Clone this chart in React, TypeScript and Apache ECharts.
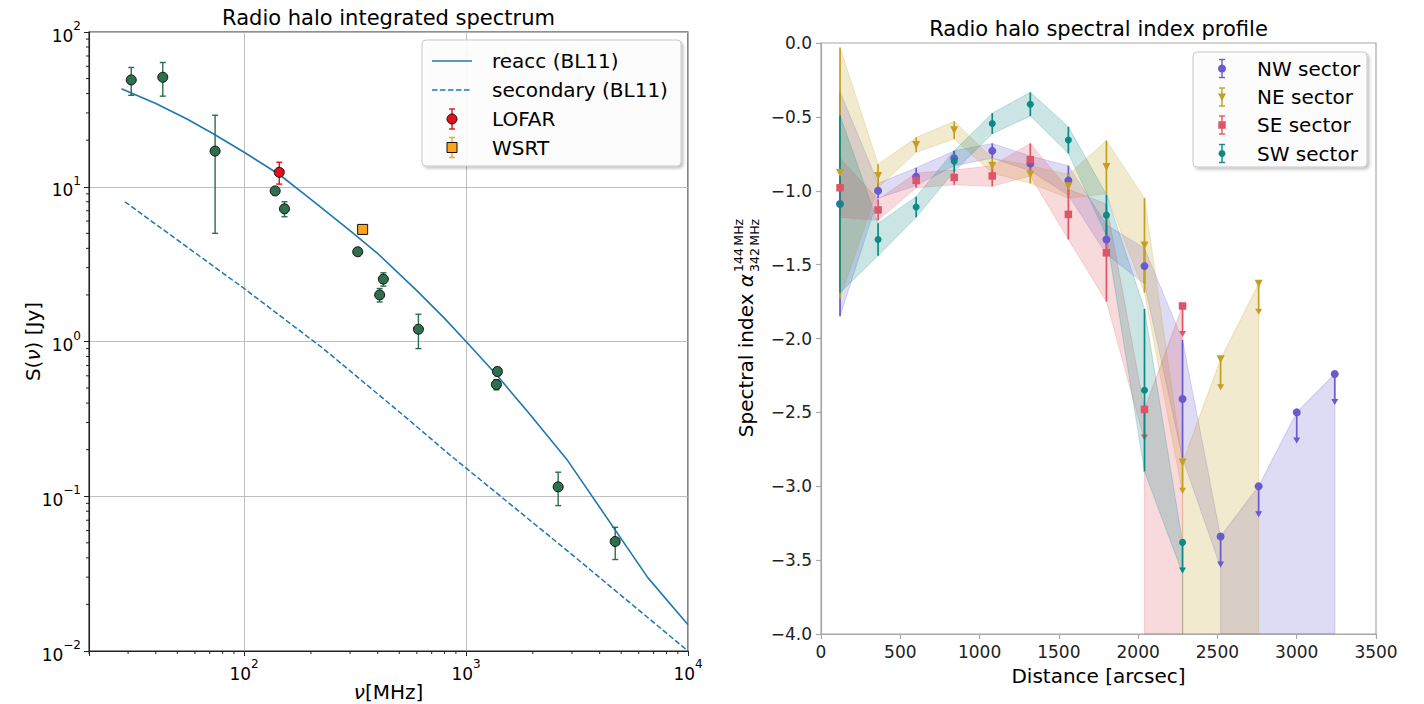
import React, { useEffect, useRef } from 'react';
import * as echarts from 'echarts';

const FONT = "'DejaVu Sans', sans-serif";

// ===== Left panel: Radio halo integrated spectrum =====
const reaccFreq = [28, 40, 55, 72.6, 100, 144, 200, 300, 404, 600, 800, 1000, 1384, 1900, 2870, 6590, 10000];
const reaccFlux = [43, 34.5, 27.5, 22, 16.7, 12.0, 8.3, 5.2, 3.65, 2.13, 1.41, 1.0, 0.6, 0.35, 0.17, 0.0298, 0.0148];
const secFreq = [29, 100, 226, 553, 834, 3000, 10000];
const secFlux = [8.0, 2.2, 0.906, 0.311, 0.188, 0.042, 0.01];
const obsFreq = [31, 43, 74, 138, 152, 325, 408, 424, 610, 1370, 1384, 2600, 4700];
const obsFlux = [49, 51, 17, 9.4, 7.2, 3.8, 2.0, 2.53, 1.2, 0.527, 0.64, 0.115, 0.051];
const obsErr = [10, 12.5, 12, 0.5, 0.8, 0.2, 0.2, 0.25, 0.3, 0.04, 0.04, 0.028, 0.012];
const lofarFreq = [144];
const lofarFlux = [12.4];
const lofarErr = [2.0];
const wsrtFreq = [342];
const wsrtFlux = [5.3];
const wsrtErr = [0.3];

// minor tick mantissas and decades (log axes)
const minorSteps = [2, 3, 4, 5, 6, 7, 8, 9];
const xMinorDecades = [10, 100, 1000];
const yMinorDecades = [0.01, 0.1, 1, 10];

// ===== Right panel: Radio halo spectral index profile =====
const distances = [120, 360, 600, 840, 1080, 1320, 1560, 1800, 2040, 2280, 2520, 2760, 3000, 3240];

const nwAlpha = [-1.09, -1.0, -0.905, -0.78, -0.73, -0.815, -0.93, -1.33, -1.51, -2.41, -3.34, -3.0, -2.5, -2.24];
const nwErr = [0.76, 0.05, 0.06, 0.05, 0.05, 0.05, 0.1, 0.1, 0.12, 0.4, 0, 0, 0, 0];
const nwUL = [0, 0, 0, 0, 0, 0, 0, 0, 0, 0, 1, 1, 1, 1];

const neAlpha = [-0.88, -0.9, -0.69, -0.59, -0.83, -0.89, -0.97, -0.84, -1.37, -2.84, -2.14, -1.63];
const neErr = [0.85, 0.08, 0.05, 0.06, 0.05, 0.06, 0.08, 0.18, 0.32, 0, 0, 0];
const neUL = [0, 0, 0, 0, 0, 0, 0, 0, 0, 1, 1, 1];

const seAlpha = [-0.98, -1.13, -0.93, -0.91, -0.9, -0.79, -1.16, -1.42, -2.48, -1.78];
const seErr = [0.2, 0.07, 0.05, 0.05, 0.07, 0.11, 0.17, 0.33, 0, 0];
const seUL = [0, 0, 0, 0, 0, 0, 0, 0, 1, 1];

const swAlpha = [-1.09, -1.33, -1.11, -0.8, -0.545, -0.414, -0.657, -1.165, -2.35, -3.38];
const swErr = [0.6, 0.11, 0.07, 0.07, 0.07, 0.08, 0.09, 0.14, 0.55, 0];
const swUL = [0, 0, 0, 0, 0, 0, 0, 0, 0, 1];

const ALPHA_MIN = -4;
const UL_ARROW = 0.21;

const LEFT_GRID = { left: 89, top: 32, width: 599, height: 619 };
const RIGHT_GRID = { left: 821, top: 43, width: 555, height: 591 };

const sectors = [
  { name: 'NW sector', color: '#6a5acd', fillA: 'rgba(106,90,205,0.22)', symbol: 'circle', size: 8, rot: 0, vals: nwAlpha, errs: nwErr, ul: nwUL },
  { name: 'NE sector', color: '#c59f22', fillA: 'rgba(197,159,34,0.22)', symbol: 'triangle', size: 8, rot: 180, vals: neAlpha, errs: neErr, ul: neUL },
  { name: 'SE sector', color: '#dd5566', fillA: 'rgba(221,85,102,0.22)', symbol: 'rect', size: 7.5, rot: 0, vals: seAlpha, errs: seErr, ul: seUL },
  { name: 'SW sector', color: '#0e8a84', fillA: 'rgba(14,138,132,0.22)', symbol: 'circle', size: 7, rot: 0, vals: swAlpha, errs: swErr, ul: swUL },
];

const zip = (a: number[], b: number[]) => a.map((v, i) => [v, b[i]]);
const zip3 = (a: number[], b: number[], c: number[]) => a.map((v, i) => [v, b[i], c[i]]);

const supLabel = (v: number) => {
  const e = Math.log10(v);
  const r = Math.round(e);
  if (Math.abs(e - r) > 1e-6) return '';
  return `{b|10}{s|${r < 0 ? '\u2212' + Math.abs(r) : r}}`;
};
const supRich = {
  b: { fontSize: 17, fontFamily: FONT, color: '#000', lineHeight: 24, verticalAlign: 'bottom' },
  s: { fontSize: 12, fontFamily: FONT, color: '#000', lineHeight: 12, verticalAlign: 'top' },
};

const errRender = (color: string, cap: number, lw: number) => (params: any, api: any) => {
  const x = api.value(0);
  const y = api.value(1);
  const e = api.value(2);
  const t = api.coord([x, y + e]);
  const b = api.coord([x, y - e]);
  const st = { stroke: color, lineWidth: lw };
  const ch: any[] = [{ type: 'line', shape: { x1: t[0], y1: t[1], x2: b[0], y2: b[1] }, style: st }];
  if (cap > 0) {
    ch.push({ type: 'line', shape: { x1: t[0] - cap, y1: t[1], x2: t[0] + cap, y2: t[1] }, style: st });
    ch.push({ type: 'line', shape: { x1: b[0] - cap, y1: b[1], x2: b[0] + cap, y2: b[1] }, style: st });
  }
  return { type: 'group', children: ch };
};

const sectorErrRender = (color: string) => (params: any, api: any) => {
  const x = api.value(0);
  const v = api.value(1);
  const e = api.value(2);
  const ul = api.value(3);
  const st = { stroke: color, lineWidth: 1.7 };
  if (ul) {
    const c = api.coord([x, v]);
    const end = api.coord([x, v - UL_ARROW]);
    return {
      type: 'group',
      children: [
        { type: 'line', shape: { x1: c[0], y1: c[1], x2: end[0], y2: end[1] - 4 }, style: st },
        { type: 'polygon', shape: { points: [[end[0] - 3.5, end[1] - 6], [end[0] + 3.5, end[1] - 6], [end[0], end[1]]] }, style: { fill: color } },
      ],
    };
  }
  const t = api.coord([x, v + e]);
  const b = api.coord([x, v - e]);
  return { type: 'line', shape: { x1: t[0], y1: t[1], x2: b[0], y2: b[1] }, style: st };
};

function buildOption() {
  const series: any[] = [];

  // ---- left panel
  series.push({
    type: 'line', name: 'reacc (BL11)', xAxisIndex: 0, yAxisIndex: 0, data: zip(reaccFreq, reaccFlux),
    symbol: 'none', lineStyle: { color: '#1f77b4', width: 1.6 }, z: 2,
  });
  series.push({
    type: 'line', name: 'secondary (BL11)', xAxisIndex: 0, yAxisIndex: 0, data: zip(secFreq, secFlux),
    symbol: 'none', lineStyle: { color: '#1f77b4', width: 1.5, type: [5.5, 2.5] }, z: 2,
  });
  series.push({
    type: 'custom', xAxisIndex: 0, yAxisIndex: 0, data: zip3(obsFreq, obsFlux, obsErr),
    encode: { x: 0, y: 1 }, renderItem: errRender('#2b6e4c', 3, 1.4), z: 3, silent: true,
  });
  series.push({
    type: 'scatter', xAxisIndex: 0, yAxisIndex: 0, data: zip(obsFreq, obsFlux),
    symbol: 'circle', symbolSize: 10, itemStyle: { color: '#2e6f4e', borderColor: '#111', borderWidth: 1, opacity: 1 }, z: 4,
  });
  series.push({
    type: 'custom', xAxisIndex: 0, yAxisIndex: 0, data: zip3(lofarFreq, lofarFlux, lofarErr),
    encode: { x: 0, y: 1 }, renderItem: errRender('#e3101b', 3, 1.4), z: 3, silent: true,
  });
  series.push({
    type: 'scatter', name: 'LOFAR', xAxisIndex: 0, yAxisIndex: 0, data: zip(lofarFreq, lofarFlux),
    symbol: 'circle', symbolSize: 10, itemStyle: { color: '#e3101b', borderColor: '#111', borderWidth: 1, opacity: 1 }, z: 4,
  });
  series.push({
    type: 'custom', xAxisIndex: 0, yAxisIndex: 0, data: zip3(wsrtFreq, wsrtFlux, wsrtErr),
    encode: { x: 0, y: 1 }, renderItem: errRender('#ffa31a', 3, 1.4), z: 3, silent: true,
  });
  series.push({
    type: 'scatter', name: 'WSRT', xAxisIndex: 0, yAxisIndex: 0, data: zip(wsrtFreq, wsrtFlux),
    symbol: 'rect', symbolSize: 10, itemStyle: { color: '#ffa31a', borderColor: '#111', borderWidth: 1, opacity: 1 }, z: 4,
  });

  // minor ticks (log axes)
  const xMinor: number[][] = [];
  xMinorDecades.forEach((d) => minorSteps.forEach((m) => xMinor.push([d * m, 0.01])));
  const yMinor: number[][] = [];
  yMinorDecades.forEach((d) => minorSteps.forEach((m) => yMinor.push([20, d * m])));
  series.push({
    type: 'custom', xAxisIndex: 0, yAxisIndex: 0, data: xMinor, clip: false, silent: true, z: 5,
    encode: { x: 0, y: 1 },
    renderItem: (params: any, api: any) => {
      const p = api.coord([api.value(0), api.value(1)]);
      return { type: 'line', shape: { x1: p[0], y1: p[1], x2: p[0], y2: p[1] + 3 }, style: { stroke: '#222', lineWidth: 1 } };
    },
  });
  series.push({
    type: 'custom', xAxisIndex: 0, yAxisIndex: 0, data: yMinor, clip: false, silent: true, z: 5,
    encode: { x: 0, y: 1 },
    renderItem: (params: any, api: any) => {
      const p = api.coord([api.value(0), api.value(1)]);
      return { type: 'line', shape: { x1: p[0], y1: p[1], x2: p[0] - 3, y2: p[1] }, style: { stroke: '#222', lineWidth: 1 } };
    },
  });

  // ---- right panel
  sectors.forEach((s) => {
    const n = s.vals.length;
    const ds = distances.slice(0, n);
    const firstUL = s.ul.indexOf(1);
    const bandEnd = firstUL >= 0 ? firstUL : n - 1;
    const bIdx = ds.map((d, i) => i).filter((i) => i <= bandEnd);
    // band through detections, closing on the first upper limit (value to arrow tip)
    const hi = s.vals.map((v, i) => (s.ul[i] ? v : v + s.errs[i]));
    const lo = s.vals.map((v, i) => (s.ul[i] ? v - UL_ARROW : v - s.errs[i]));
    series.push({
      type: 'custom', xAxisIndex: 1, yAxisIndex: 1, data: [[ds[0], s.vals[0]]], clip: true, silent: true, z: 1,
      encode: { x: 0, y: 1 },
      renderItem: (params: any, api: any) => {
        const up = bIdx.map((i) => api.coord([ds[i], hi[i]]));
        const dn = bIdx.map((i) => api.coord([ds[i], lo[i]])).reverse();
        return { type: 'polygon', shape: { points: up.concat(dn) }, style: { fill: s.fillA, stroke: s.fillA, lineWidth: 1 } };
      },
    });
    // upper-limit region, filled from the value down to the axis floor
    const ulIdx = s.vals.map((v, i) => i).filter((i) => s.ul[i]);
    if (ulIdx.length) {
      series.push({
        type: 'custom', xAxisIndex: 1, yAxisIndex: 1, data: [[ds[ulIdx[0]], s.vals[ulIdx[0]]]], clip: true, silent: true, z: 1,
        encode: { x: 0, y: 1 },
        renderItem: (params: any, api: any) => {
          const up = ulIdx.map((i) => api.coord([ds[i], s.vals[i]]));
          const dn = ulIdx.map((i) => api.coord([ds[i], ALPHA_MIN])).reverse();
          return { type: 'polygon', shape: { points: up.concat(dn) }, style: { fill: s.fillA, stroke: s.fillA, lineWidth: 1.2 } };
        },
      });
    }
  });
  sectors.forEach((s) => {
    const n = s.vals.length;
    const ds = distances.slice(0, n);
    series.push({
      type: 'custom', xAxisIndex: 1, yAxisIndex: 1, clip: false, silent: true, z: 3,
      data: ds.map((d, i) => [d, s.vals[i], s.errs[i], s.ul[i]]),
      encode: { x: 0, y: 1 },
      renderItem: sectorErrRender(s.color),
    });
    series.push({
      type: 'scatter', name: s.name, xAxisIndex: 1, yAxisIndex: 1, z: 4,
      data: zip(ds, s.vals), symbol: s.symbol, symbolSize: s.size, symbolRotate: s.rot,
      itemStyle: { color: s.color, opacity: 1 },
    });
  });

  // ---- graphic: titles, axis names, legends
  const T = (x: number, y: number, text: string, size: number, extra: any = {}) => ({
    type: 'text', x, y, silent: true, z: 100,
    style: {
      text, font: `${size}px ${FONT}`, fill: '#000',
      textAlign: 'center', textVerticalAlign: 'middle', ...extra,
    },
  });
  const ln = (x1: number, y1: number, x2: number, y2: number, color: string, w = 1.5, dash?: number[]) => ({
    type: 'line', silent: true, z: 101, shape: { x1, y1, x2, y2 },
    style: { stroke: color, lineWidth: w, lineDash: dash },
  });
  const legendBox = (x: number, y: number, w: number, h: number) => ({
    type: 'rect', silent: true, z: 99, shape: { x, y, width: w, height: h, r: 4 },
    style: {
      fill: 'rgba(255,255,255,0.9)', stroke: '#c8c8c8', lineWidth: 1,
      shadowBlur: 3, shadowOffsetX: 2, shadowOffsetY: 2, shadowColor: 'rgba(0,0,0,0.25)',
    },
  });
  const errGlyph = (cx: number, cy: number, color: string, half: number, cap: number) => [
    ln(cx, cy - half, cx, cy + half, color, 1.4),
    ln(cx - cap, cy - half, cx + cap, cy - half, color, 1.4),
    ln(cx - cap, cy + half, cx + cap, cy + half, color, 1.4),
  ];

  const graphic: any[] = [
    T(388.5, 18, 'Radio halo integrated spectrum', 21),
    T(1098.5, 29, 'Radio halo spectral index profile', 21),
    T(388.5, 692, '{i|\u03bd}[MHz]', 20, { rich: { i: { fontStyle: 'italic', font: `italic 20px ${FONT}` } } }),
    {
      type: 'group', x: 33, y: 341.5, rotation: Math.PI / 2, silent: true,
      children: [T(0, 0, 'S({i|\u03bd}) [Jy]', 20, { rich: { i: { fontStyle: 'italic', font: `italic 20px ${FONT}` } } })],
    },
    T(1098.5, 676, 'Distance [arcsec]', 20),
    {
      type: 'group', x: 746, y: 274, rotation: Math.PI / 2, silent: true,
      children: [
        T(0, 0, 'Spectral index {a|\u03b1}', 20, { textAlign: 'right', rich: { a: { font: `italic 20px ${FONT}` } } }),
        T(2, -8, '144\u2009MHz', 12.5, { textAlign: 'left' }),
        T(2, 8, '342\u2009MHz', 12.5, { textAlign: 'left' }),
      ],
    },
    // left legend
    legendBox(422, 40, 259, 126),
    ln(432, 61, 472, 61, '#1f77b4', 1.6),
    T(492, 61, 'reacc (BL11)', 20, { textAlign: 'left' }),
    ln(432, 90, 472, 90, '#1f77b4', 1.5, [5.5, 2.5]),
    T(492, 90, 'secondary (BL11)', 20, { textAlign: 'left' }),
    ...errGlyph(452, 119, '#e3101b', 10, 3),
    { type: 'circle', silent: true, z: 102, shape: { cx: 452, cy: 119, r: 5 }, style: { fill: '#e3101b', stroke: '#111', lineWidth: 1 } },
    T(492, 119, 'LOFAR', 20, { textAlign: 'left' }),
    ...errGlyph(452, 147.5, '#ffa31a', 10, 3),
    { type: 'rect', silent: true, z: 102, shape: { x: 447, y: 142.5, width: 10, height: 10 }, style: { fill: '#ffa31a', stroke: '#111', lineWidth: 1 } },
    T(492, 147.5, 'WSRT', 20, { textAlign: 'left' }),
    // right legend
    legendBox(1193, 52, 174, 115),
  ];
  const rowsY = [68.5, 97, 125, 153.5];
  sectors.forEach((s, i) => {
    const cy = rowsY[i];
    graphic.push(...errGlyph(1222, cy, s.color, 9, 3));
    if (s.symbol === 'circle') {
      graphic.push({ type: 'circle', silent: true, z: 102, shape: { cx: 1222, cy, r: s.size / 2 }, style: { fill: s.color } });
    } else if (s.symbol === 'rect') {
      graphic.push({ type: 'rect', silent: true, z: 102, shape: { x: 1222 - s.size / 2, y: cy - s.size / 2, width: s.size, height: s.size }, style: { fill: s.color } });
    } else {
      graphic.push({ type: 'polygon', silent: true, z: 102, shape: { points: [[1218, cy - 3.5], [1226, cy - 3.5], [1222, cy + 4]] }, style: { fill: s.color } });
    }
    graphic.push(T(1257, cy, s.name, 20, { textAlign: 'left' }));
  });

  const rightAxisCommon = {
    axisLine: { show: true, onZero: false, lineStyle: { color: '#a8a8a8', width: 1.2 } },
    axisTick: { show: true, length: 5, lineStyle: { color: '#a8a8a8', width: 1.2 } },
    splitLine: { show: false },
  };

  return {
    animation: false,
    backgroundColor: '#ffffff',
    grid: [
      { ...LEFT_GRID, show: true, borderColor: '#222', borderWidth: 1.1, backgroundColor: 'transparent', outerBoundsMode: 'none' },
      { ...RIGHT_GRID, show: true, borderColor: '#a8a8a8', borderWidth: 1.2, backgroundColor: 'transparent', outerBoundsMode: 'none' },
    ],
    xAxis: [
      {
        type: 'log', logBase: 10, gridIndex: 0, min: 20, max: 10000,
        axisLine: { show: true, onZero: false, lineStyle: { color: '#222', width: 1.1 } },
        axisTick: { show: true, length: 5, lineStyle: { color: '#222' } },
        axisLabel: { margin: 7, formatter: supLabel, rich: supRich, showMinLabel: true, showMaxLabel: true },
        splitLine: { show: true, lineStyle: { color: '#b8b8b8', width: 0.9 } },
      },
      {
        type: 'value', gridIndex: 1, min: 0, max: 3500, interval: 500,
        ...rightAxisCommon,
        axisLabel: {
          margin: 9, fontSize: 17, fontFamily: FONT, color: '#222', showMinLabel: true, showMaxLabel: true,
          formatter: (v: number) => String(v),
        },
      },
    ],
    yAxis: [
      {
        type: 'log', logBase: 10, gridIndex: 0, min: 0.01, max: 100,
        axisLine: { show: true, onZero: false, lineStyle: { color: '#222', width: 1.1 } },
        axisTick: { show: true, length: 5, lineStyle: { color: '#222' } },
        axisLabel: { margin: 8, formatter: supLabel, rich: supRich, showMinLabel: true, showMaxLabel: true },
        splitLine: { show: true, lineStyle: { color: '#b8b8b8', width: 0.9 } },
      },
      {
        type: 'value', gridIndex: 1, min: -4, max: 0, interval: 0.5,
        ...rightAxisCommon,
        axisLabel: {
          margin: 9, fontSize: 17, fontFamily: FONT, color: '#222', showMinLabel: true, showMaxLabel: true,
          formatter: (v: number) => v.toFixed(1).replace('-', '\u2212'),
        },
      },
    ],
    series,
    graphic: { elements: graphic },
  };
}

export default function App() {
  const ref = useRef<HTMLDivElement>(null);
  useEffect(() => {
    if (!ref.current) return;
    const chart = echarts.init(ref.current, null, { renderer: 'svg' });
    chart.setOption(buildOption() as any);
    return () => chart.dispose();
  }, []);
  return (
    <div
      ref={ref}
      style={{ position: 'fixed', left: 0, top: 0, width: 1424, height: 704, background: '#fff' }}
    />
  );
}
